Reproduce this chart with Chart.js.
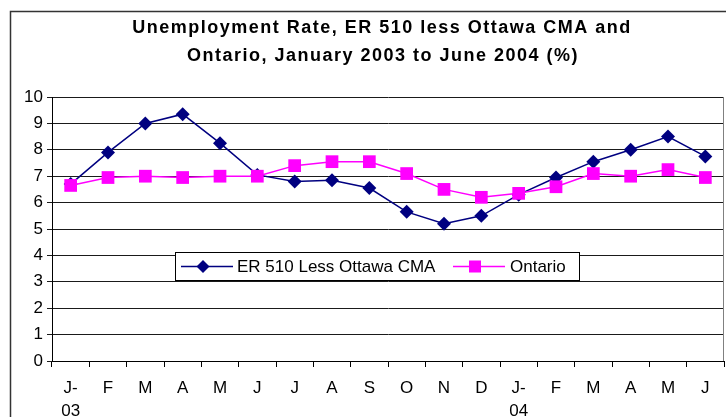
<!DOCTYPE html>
<html>
<head>
<meta charset="utf-8">
<script src="https://cdn.jsdelivr.net/npm/chart.js@4/dist/chart.umd.min.js"></script>
<style>
  html, body { margin: 0; padding: 0; background: #fff; }
  #wrap { position: relative; width: 726px; height: 417px; }
  canvas { display: block; }
</style>
</head>
<body>
<div id="wrap"><canvas id="c" width="726" height="417"></canvas></div>
<script>
const months = [['J-','03'],'F','M','A','M','J','J','A','S','O','N','D',['J-','04'],'F','M','A','M','J'];
const er510 = [6.7, 7.9, 9.0, 9.35, 8.25, 7.05, 6.8, 6.85, 6.55, 5.65, 5.2, 5.5, 6.3, 6.95, 7.55, 8.0, 8.5, 7.75];
const ontario = [6.65, 6.95, 7.0, 6.95, 7.0, 7.0, 7.4, 7.55, 7.55, 7.1, 6.5, 6.2, 6.35, 6.6, 7.1, 7.0, 7.25, 6.95];
const seriesNames = ['ER 510 Less Ottawa CMA', 'Ontario'];
const titleLines = ['Unemployment Rate, ER 510 less Ottawa CMA and', 'Ontario, January 2003 to June 2004 (%)'];
const yTicks = [0,1,2,3,4,5,6,7,8,9,10];

const FONT = '"Liberation Sans", Arial, sans-serif';
const NAVY = '#000080';
const MAGENTA = '#FF00FF';

const framePlugin = {
  id: 'frame',
  beforeDraw(chart) {
    const ctx = chart.ctx;
    ctx.save();
    ctx.fillStyle = '#fff';
    ctx.fillRect(0, 0, chart.width, chart.height);
    ctx.strokeStyle = '#333';
    ctx.lineWidth = 1.5;
    ctx.beginPath();
    ctx.moveTo(10.5, chart.height + 2);
    ctx.lineTo(10.5, 11.5);
    ctx.lineTo(chart.width + 2, 11.5);
    ctx.stroke();
    // title
    ctx.fillStyle = '#000';
    ctx.font = 'bold 18px ' + FONT;
    ctx.textAlign = 'center';
    ctx.textBaseline = 'alphabetic';
    if ('letterSpacing' in ctx) ctx.letterSpacing = '1.5px';
    ctx.fillText(titleLines[0], 382, 33);
    ctx.fillText(titleLines[1], 383, 61);
    if ('letterSpacing' in ctx) ctx.letterSpacing = '0px';
    ctx.restore();
  },
  afterDatasetsDraw(chart) {
    const ctx = chart.ctx;
    const a = chart.chartArea;
    ctx.save();
    ctx.strokeStyle = '#808080';
    ctx.lineWidth = 1;
    ctx.beginPath();
    ctx.moveTo(Math.round(a.right) - 0.5, a.top);
    ctx.lineTo(Math.round(a.right) - 0.5, a.bottom);
    ctx.stroke();
    // legend box
    const x0 = 175, y0 = 252, w = 404, h = 28;
    ctx.fillStyle = '#fff';
    ctx.fillRect(x0, y0, w, h);
    ctx.strokeStyle = '#000';
    ctx.lineWidth = 1;
    ctx.strokeRect(x0 + 0.5, y0 + 0.5, w, h);
    const cy = y0 + h / 2 + 0.5;
    ctx.font = '17px ' + FONT;
    ctx.textBaseline = 'middle';
    ctx.textAlign = 'left';
    ctx.strokeStyle = NAVY; ctx.lineWidth = 1.5;
    ctx.beginPath(); ctx.moveTo(181, cy); ctx.lineTo(233, cy); ctx.stroke();
    ctx.fillStyle = NAVY;
    ctx.beginPath();
    ctx.moveTo(203, cy - 6.5); ctx.lineTo(209.5, cy); ctx.lineTo(203, cy + 6.5); ctx.lineTo(196.5, cy);
    ctx.closePath(); ctx.fill();
    ctx.fillStyle = '#000';
    ctx.fillText(seriesNames[0], 237, cy + 1);
    ctx.strokeStyle = MAGENTA;
    ctx.beginPath(); ctx.moveTo(453, cy); ctx.lineTo(505, cy); ctx.stroke();
    ctx.fillStyle = MAGENTA;
    ctx.fillRect(469, cy - 6, 12, 12);
    ctx.fillStyle = '#000';
    ctx.fillText(seriesNames[1], 510, cy + 1);
    ctx.restore();
  }
};

new Chart(document.getElementById('c'), {
  type: 'line',
  data: {
    labels: months,
    datasets: [
      {
        label: seriesNames[0],
        data: er510,
        borderColor: NAVY,
        backgroundColor: NAVY,
        borderWidth: 1.5,
        pointStyle: 'rectRot',
        pointRadius: 7,
        pointHoverRadius: 7,
        pointBorderWidth: 0,
        tension: 0,
        order: 2
      },
      {
        label: seriesNames[1],
        data: ontario,
        borderColor: MAGENTA,
        backgroundColor: MAGENTA,
        borderWidth: 1.5,
        pointStyle: 'rect',
        pointRadius: 9,
        pointHoverRadius: 9,
        pointBorderWidth: 0,
        tension: 0,
        order: 1
      }
    ]
  },
  options: {
    responsive: false,
    animation: false,
    layout: { autoPadding: false, padding: { left: 0, right: 2, top: 97, bottom: 0 } },
    plugins: {
      legend: { display: false },
      tooltip: { enabled: false },
      title: { display: false }
    },
    scales: {
      x: {
        type: 'category',
        offset: true,
        grid: {
          offset: true,
          drawOnChartArea: false,
          drawTicks: true,
          tickLength: 6,
          color: '#000',
          lineWidth: 1
        },
        border: { display: true, color: '#000', width: 1 },
        ticks: {
          color: '#000',
          font: { family: FONT, size: 17, lineHeight: 1.35 },
          maxRotation: 0,
          autoSkip: false,
          padding: 10
        },
        afterFit(scale) { scale.height = 56; }
      },
      y: {
        min: 0,
        max: 10,
        afterBuildTicks(scale) { scale.ticks = yTicks.map(v => ({ value: v })); },
        grid: {
          color: '#1a1a1a',
          lineWidth: 1,
          drawTicks: true,
          tickLength: 5
        },
        border: { display: true, color: '#000', width: 1 },
        ticks: {
          color: '#000',
          font: { family: FONT, size: 17 },
          padding: 4
        },
        afterFit(scale) { scale.width = 52; }
      }
    }
  },
  plugins: [framePlugin]
});
</script>
</body>
</html>
